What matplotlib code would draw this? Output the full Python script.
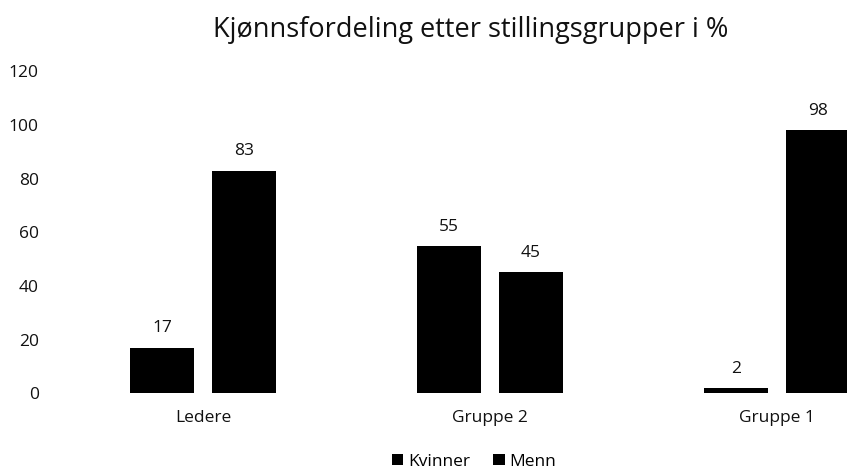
import numpy as np
import matplotlib.pyplot as plt

plt.rcParams['font.family'] = ['Open Sans', 'DejaVu Sans']

categories = ['Ledere', 'Gruppe 2', 'Gruppe 1']
kvinner = [17, 55, 2]
menn = [83, 45, 98]
yticks = [0, 20, 40, 60, 80, 100, 120]

fig = plt.figure(figsize=(8.47, 4.72), dpi=100)
# axes runs past the right edge, as in the original (last bar is cut off)
ax = fig.add_axes([0.0703, 0.167, 1.016, 0.682])

x = np.arange(len(categories))
w = 0.223
off = 0.143
b1 = ax.bar(x - off, kvinner, w, color='black', label='Kvinner')
b2 = ax.bar(x + off, menn, w, color='black', label='Menn')

for bars in (b1, b2):
    for b in bars:
        ax.annotate(f'{b.get_height():.0f}', (b.get_x() + b.get_width() / 2, b.get_height()),
                    xytext=(0, 8), textcoords='offset points', ha='center', va='bottom',
                    fontsize=12.5, color='#111111')

ax.set_xlim(-0.5, 2.5)
ax.set_ylim(0, 120)
ax.set_yticks(yticks)
ax.set_xticks(x)
ax.set_xticklabels(categories)
ax.tick_params(length=0, labelsize=12.5, colors='#111111')
ax.tick_params(axis='y', pad=15)
ax.tick_params(axis='x', pad=12)
for s in ax.spines.values():
    s.set_visible(False)

fig.text(0.556, 0.937, 'Kjønnsfordeling etter stillingsgrupper i %', ha='center', va='center',
         fontsize=19.5, color='#111111')

fig.legend(loc='center', bbox_to_anchor=(0.560, 0.022), ncol=2, frameon=False,
           fontsize=12.5, handlelength=0.65, handleheight=0.65, handletextpad=0.3,
           columnspacing=1.3)

fig.savefig('out.png', dpi=100)
